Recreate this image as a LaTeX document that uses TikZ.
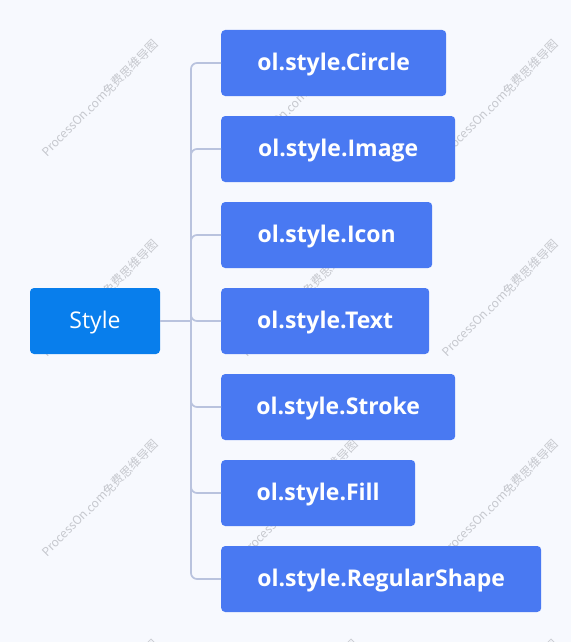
\documentclass[tikz,border=0pt]{standalone}
\usepackage{fontspec}
\setmainfont{Open Sans}
\newfontfamily\wmfont{Noto Sans CJK SC}
\definecolor{bgc}{HTML}{F7F9FE}
\definecolor{rootc}{HTML}{087EEC}
\definecolor{kidc}{HTML}{4979F2}
\definecolor{linec}{HTML}{B9C3DE}
\definecolor{wmc}{HTML}{C6C8CE}

\begin{document}
\begin{tikzpicture}[x=1pt,y=-1pt]
\tikzstyle{root}=[rectangle, rounded corners=4pt, fill=rootc, text=white, inner sep=0pt,
                  text height=16pt, text depth=1pt,
                  minimum width=130pt, minimum height=66pt, font=\fontsize{23}{28}\selectfont]
\tikzstyle{kid}=[rectangle, rounded corners=4pt, fill=kidc, text=white, anchor=west,
                 inner sep=0pt, text height=16pt, text depth=1pt,
                 minimum height=66pt, font=\fontsize{23}{28}\selectfont\bfseries]
\tikzstyle{wm}=[rotate=45, text=wmc, font=\wmfont\fontsize{12}{14}\selectfont]
\tikzstyle{conn}=[draw=linec, line width=1.7pt, rounded corners=6pt]

\fill[bgc] (0,0) rectangle (571,642);
\useasboundingbox (0,0) rectangle (571,642);
\clip (0,0) rectangle (571,642);

% watermark
\foreach \a in {100,300,500}{
  \foreach \b in {98,298,498,698}{\node[wm] (wm-\a-\b) at (\a,\b){ProcessOn.com免费思维导图};}}

\node[root] (S) at (95,321){Style};
\coordinate (T) at (191,321);
\draw[conn] (S) -- (T);
\foreach \i/\w/\y in {Circle/225/63, Image/234/149, Icon/211/235, Text/208/321,
                      Stroke/234/407, Fill/194/493, RegularShape/320/579}{
  \node[kid, minimum width=\w pt] (\i) at (221,\y){ol.style.\i};
  \draw[conn] (T) |- (\i);
}
\end{tikzpicture}
\end{document}
